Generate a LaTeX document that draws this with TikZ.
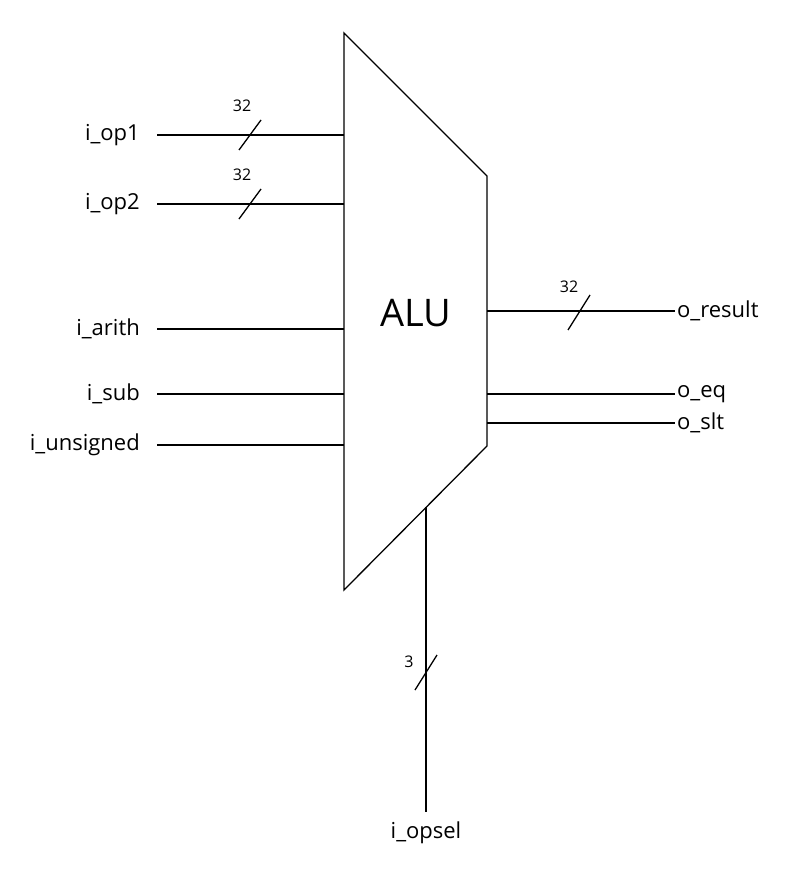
\documentclass[tikz,border=0pt]{standalone}
\usepackage{fontspec}
\setmainfont{Open Sans}
\tikzstyle{port}=[inner sep=0pt,font=\fontsize{22}{26}\selectfont]
\tikzstyle{width}=[inner sep=0pt,font=\fontsize{16}{18}\selectfont]
\tikzstyle{wire}=[draw=black,line width=1.3pt]
\begin{document}
\begin{tikzpicture}[x=1pt,y=-1pt]
	\useasboundingbox (0,0) rectangle (796,878);
	% alu outline
	\coordinate (tl) at (344,33);
	\coordinate (tr) at (487,176);
	\coordinate (br) at (487,446);
	\coordinate (bl) at (344,590);
	\draw [style=wire] (tl) -- (tr) -- (br) -- (bl) -- cycle;
	\node [font=\fontsize{38}{44}\selectfont] (alu) at (416,313) {ALU};
	% inputs
	\node [style=port, anchor=east] (0) at (140,135) {i\_op1};
	\node [style=port, anchor=east] (1) at (140,204) {i\_op2};
	\node [style=port, anchor=east] (2) at (140,329) {i\_arith};
	\node [style=port, anchor=east] (3) at (140,394) {i\_sub};
	\node [style=port, anchor=east] (4) at (140,445) {i\_unsigned};
	\coordinate (a0) at (344,135);
	\coordinate (a1) at (344,204);
	\coordinate (a2) at (344,329);
	\coordinate (a3) at (344,394);
	\coordinate (a4) at (344,445);
	\foreach \i in {0,...,4}
		\draw [style=wire] (\i.east) ++(17,0) -- (a\i);
	% outputs
	\node [style=port, anchor=west] (5) at (677,311) {o\_result};
	\node [style=port, anchor=west] (6) at (677,394) {o\_eq};
	\node [style=port, anchor=west] (7) at (677,423) {o\_slt};
	\coordinate (a5) at (487,311);
	\coordinate (a6) at (487,394);
	\coordinate (a7) at (487,423);
	\foreach \i in {5,6,7}
		\draw [style=wire] (a\i) -- ([xshift=-2pt]\i.west);
	% select
	\node [style=port] (8) at (426,833) {i\_opsel};
	\coordinate (a8) at (426,507);
	\draw [style=wire] (a8) -- (426,812);
	% bus widths
	\draw [style=wire] (239,150) -- (261,120);
	\node [style=width] (w0) at (242,106) {32};
	\draw [style=wire] (239,219) -- (261,189);
	\node [style=width] (w1) at (242,175) {32};
	\draw [style=wire] (568,330) -- (590,295);
	\node [style=width] (w5) at (569,287) {32};
	\draw [style=wire] (415,690) -- (437,655);
	\node [style=width] (w8) at (409,662) {3};
\end{tikzpicture}
\end{document}
